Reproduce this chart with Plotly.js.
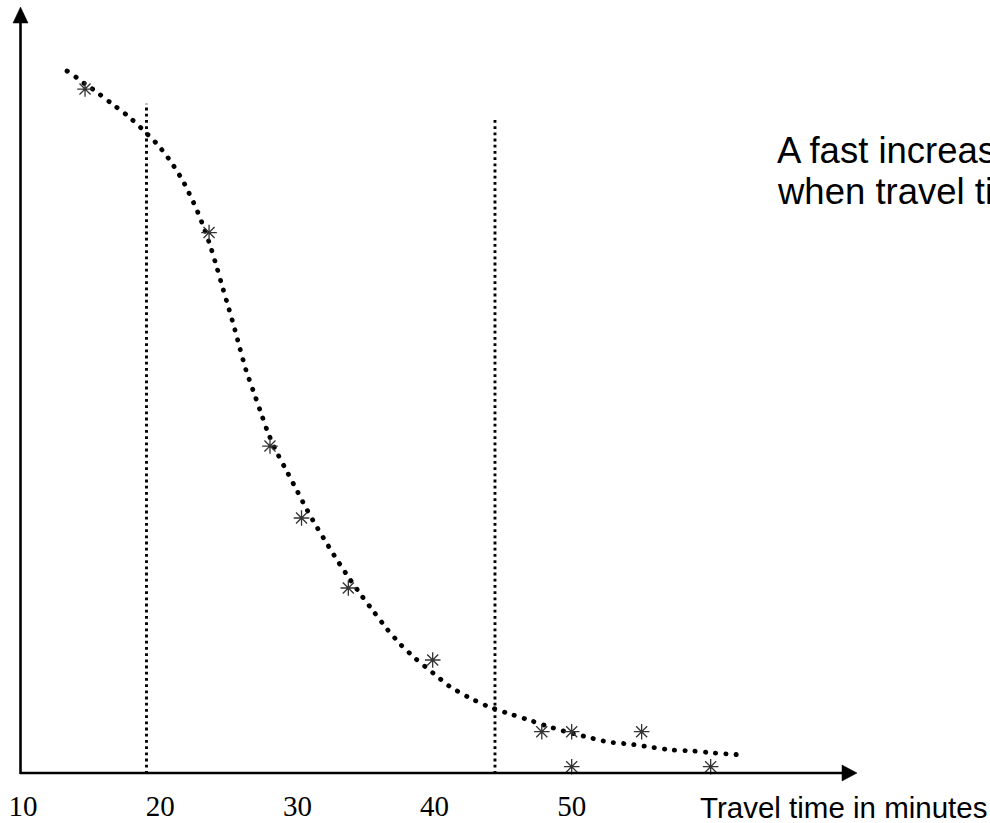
<!DOCTYPE html>
<html>
<head>
<meta charset="utf-8">
<script src="https://cdn.plot.ly/plotly-3.0.1.min.js"></script>
<style>
html,body{margin:0;padding:0;background:#fff;}
#chart{width:990px;height:823px;}
.scatterlayer .js-line{stroke-linecap:round !important;}
</style>
</head>
<body>
<div id="chart"></div>
<script>
// Fitted curve (travel time in minutes, relative share)
const curveX = [13.21,13.94,14.52,15.17,16.41,17.65,18.75,19.84,20.79,21.66,22.61,23.19,23.70,24.14,24.58,25.01,25.45,25.82,26.25,26.76,27.27,27.78,28.37,29.10,29.83,30.55,31.28,32.08,32.89,33.76,34.64,35.58,36.53,37.55,38.64,39.88,41.05,42.43,43.82,45.28,46.66,48.19,49.65,51.11,52.64,54.17,55.70,57.30,58.83,60.36,62.70];
const curveY = [100.29,99.29,98.43,97.57,95.71,93.86,91.86,89.71,87.29,84.57,80.71,77.86,75.0,72.14,69.14,66.29,63.29,60.57,57.57,54.71,51.86,49.0,46.29,43.57,40.86,38.14,35.57,33.0,30.43,27.86,25.43,23.0,20.57,18.29,16.29,14.29,12.43,10.86,9.57,8.57,7.71,6.71,5.86,5.14,4.43,4.14,3.71,3.29,3.14,2.86,2.55];
// Observed points (asterisks)
const obsX = [14.52,23.56,28.0,30.30,33.71,39.86,47.81,49.99,55.09,49.99,60.12];
const obsY = [97.71,77.21,46.71,36.43,26.43,16.14,5.9,5.9,5.9,0.9,0.9];
// Vertical reference lines (minutes)
const refX = [19.0, 44.4];
const refTop = [95.6, 93.6];
// Tick labels
const tickVals = [10,20,30,40,50];
const tickText = ['10','20','30','40','50'];
const axisTitle = 'Travel time in minutes';
const noteLines = ['A fast increase','when travel time'];

const X0 = 9.78, X1 = 80.48, Y0 = 0, Y1 = 110.43;
const W = 990, H = 823, ML = 20, MB = 50;
const PW = W - ML, PH = H - MB;
const px = v => (v - ML) / PW;          // pixel x -> paper
const py = v => (PH - v) / PH;          // pixel y -> paper

const traces = [
  {x: curveX, y: curveY, mode: 'lines', type: 'scatter', name: 'curve',
   line: {color: '#000', width: 4.8, dash: '0.3px,10px', shape: 'spline', smoothing: 0.6},
   hoverinfo: 'skip', cliponaxis: false},
  {x: obsX, y: obsY, mode: 'markers', type: 'scatter', name: 'obs',
   marker: {symbol: 'asterisk-open', size: 13, color: '#333', line: {color: '#333', width: 1.3}},
   hoverinfo: 'skip', cliponaxis: false}
];

const shapes = [];
refX.forEach((xv, i) => {
  shapes.push({type: 'line', xref: 'x', yref: 'y', x0: xv, x1: xv, y0: -1.0, y1: refTop[i],
    line: {color: '#000', width: 2.9, dash: '2.8px,3.4px'}});
});
// axes with arrows
shapes.push({type: 'line', xref: 'paper', yref: 'paper', x0: 0, x1: px(845), y0: 0, y1: 0,
  line: {color: '#000', width: 2.6}});
shapes.push({type: 'path', xref: 'paper', yref: 'paper',
  path: `M${px(857)},${py(773)} L${px(842)},${py(765)} L${px(842)},${py(781)} Z`,
  fillcolor: '#000', line: {color: '#000', width: 0.5}});
shapes.push({type: 'line', xref: 'paper', yref: 'paper', x0: px(20.5), x1: px(20.5), y0: py(774), y1: py(20),
  line: {color: '#000', width: 2.6}});
shapes.push({type: 'path', xref: 'paper', yref: 'paper',
  path: `M${px(20.5)},${py(7)} L${px(13)},${py(23)} L${px(28)},${py(23)} Z`,
  fillcolor: '#000', line: {color: '#000', width: 0.5}});

const annotations = [
  {xref: 'paper', yref: 'paper', x: px(698), y: 0, xanchor: 'left', yanchor: 'middle', yshift: -34,
   text: axisTitle, showarrow: false, font: {family: 'Liberation Sans, Arial, sans-serif', size: 29.5, color: '#000'}},
  {xref: 'paper', yref: 'paper', x: px(775), y: py(150), xanchor: 'left', yanchor: 'middle',
   text: noteLines[0], showarrow: false, font: {family: 'Liberation Sans, Arial, sans-serif', size: 36.5, color: '#000'}},
  {xref: 'paper', yref: 'paper', x: px(775), y: py(192), xanchor: 'left', yanchor: 'middle',
   text: noteLines[1], showarrow: false, font: {family: 'Liberation Sans, Arial, sans-serif', size: 36.5, color: '#000'}}
];

const layout = {
  width: W, height: H,
  margin: {l: ML, r: 0, t: 0, b: MB, pad: 0},
  paper_bgcolor: '#fff', plot_bgcolor: '#fff',
  showlegend: false,
  xaxis: {range: [X0, X1], showgrid: false, zeroline: false, showline: false, ticks: '',
    tickmode: 'array', tickvals: tickVals, ticktext: tickText, ticklabelstandoff: 13,
    tickfont: {family: 'Liberation Serif, Times New Roman, serif', size: 29, color: '#000'}, fixedrange: true},
  yaxis: {range: [Y0, Y1], showgrid: false, zeroline: false, showline: false, ticks: '',
    showticklabels: false, fixedrange: true},
  shapes: shapes,
  annotations: annotations
};

Plotly.newPlot('chart', traces, layout, {displayModeBar: false, staticPlot: true}).then(() => {
  document.querySelectorAll('.scatterlayer .js-line').forEach(p => {
    p.style.strokeLinecap = 'round';
  });
});
</script>
</body>
</html>
